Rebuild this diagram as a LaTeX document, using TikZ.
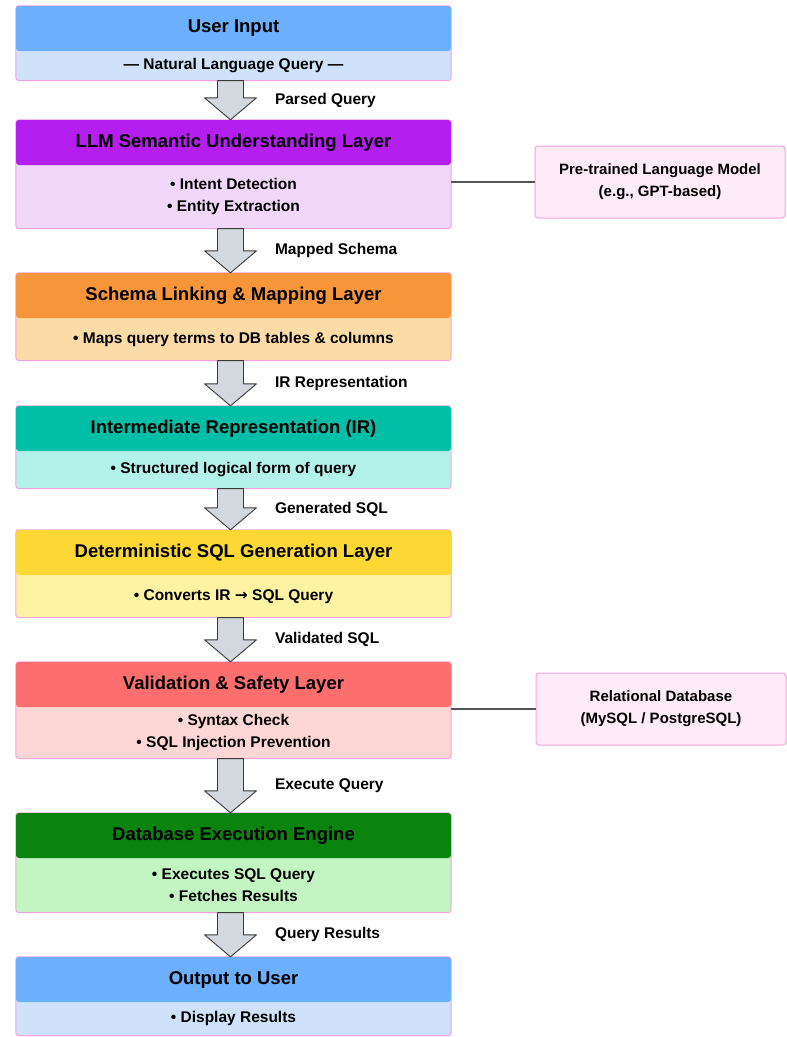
\documentclass[tikz,border=0pt]{standalone}
\usepackage{fontspec}
\setmainfont{Liberation Sans}
\newfontfamily\symbolfont{DejaVu Sans}
\usetikzlibrary{positioning, fit, backgrounds, calc}

\definecolor{userHead}{HTML}{6CAFFC}
\definecolor{userBody}{HTML}{CFE2FA}
\definecolor{llmHeadC}{HTML}{B41FF0}
\definecolor{llmBodyC}{HTML}{F1D7FA}
\definecolor{schemaHeadC}{HTML}{F7953A}
\definecolor{schemaBodyC}{HTML}{FCDBA6}
\definecolor{irHeadC}{HTML}{00BFA6}
\definecolor{irBodyC}{HTML}{B3F2EB}
\definecolor{genHeadC}{HTML}{FDD835}
\definecolor{genBodyC}{HTML}{FEF3A2}
\definecolor{valHeadC}{HTML}{FF6E6E}
\definecolor{valBodyC}{HTML}{FFD6D6}
\definecolor{exeHeadC}{HTML}{0A840F}
\definecolor{exeBodyC}{HTML}{C3F5C3}
\definecolor{framepink}{HTML}{F5A3DC}
\definecolor{sidefill}{HTML}{FDEBF8}
\definecolor{arrowfill}{HTML}{D3D8DE}
\definecolor{arrowline}{HTML}{3A3A3A}
\definecolor{linkgray}{HTML}{555555}

\begin{document}
\begin{tikzpicture}[
    x=1pt, y=-1pt,
    headbox/.style={rounded corners=3pt, minimum width=435pt, minimum height=45pt, inner sep=0pt, font=\fontsize{18.5}{22}\selectfont\bfseries},
    bodybox/.style={align=center, minimum width=435pt, inner sep=0pt, font=\fontsize{15.5}{22}\selectfont\bfseries},
    layerframe/.style={draw=framepink, line width=1pt, rounded corners=3pt, inner sep=0pt},
    sidebox/.style={draw=framepink, line width=1pt, fill=sidefill, rounded corners=3pt, align=center, minimum width=250pt, minimum height=72pt, inner sep=0pt, font=\fontsize{15}{22}\selectfont\bfseries},
    flowlabel/.style={anchor=west, xshift=38pt, font=\fontsize{15.5}{18}\selectfont\bfseries},
    link/.style={draw=linkgray, line width=1.2pt},
    blockarrow/.style={draw=arrowline, fill=arrowfill, line width=0.9pt, line join=round,
        to path={let \p1=(\tikztostart), \p2=(\tikztotarget) in
            (\x1-13pt,\y1) -- (\x1+13pt,\y1) -- (\x1+13pt,\y2+22pt) -- (\x1+26pt,\y2+22pt)
            -- (\x1,\y2) -- (\x1-26pt,\y2+22pt) -- (\x1-13pt,\y2+22pt) -- cycle}},
]
\useasboundingbox (0,0) rectangle (787,1037);

% Layer 1: user input
\node[headbox, fill=userHead] (userHead) at (233.5,28.5) {User Input};
\node[bodybox, below=0pt of userHead, minimum height=29pt] (userBody) {— Natural Language Query —};

% Layer 2: LLM
\node[headbox, fill=llmHeadC] (llmHead) at (233.5,142.5) {LLM Semantic Understanding Layer};
\node[bodybox, below=0pt of llmHead, minimum height=63pt] (llmBody) {• Intent Detection\\• Entity Extraction};

% Layer 3: schema linking
\node[headbox, fill=schemaHeadC] (schemaHead) at (233.5,295.5) {Schema Linking \& Mapping Layer};
\node[bodybox, below=0pt of schemaHead, minimum height=42pt] (schemaBody) {• Maps query terms to DB tables \& columns};

% Layer 4: IR
\node[headbox, fill=irHeadC] (irHead) at (233.5,428.5) {Intermediate Representation (IR)};
\node[bodybox, below=0pt of irHead, minimum height=37pt] (irBody) {• Structured logical form of query};

% Layer 5: SQL generation
\node[headbox, fill=genHeadC] (genHead) at (233.5,552.5) {Deterministic SQL Generation Layer};
\node[bodybox, below=0pt of genHead, minimum height=42pt] (genBody) {• Converts IR {\symbolfont\bfseries →} SQL Query};

% Layer 6: validation
\node[headbox, fill=valHeadC] (valHead) at (233.5,684.5) {Validation \& Safety Layer};
\node[bodybox, below=0pt of valHead, minimum height=51pt] (valBody) {• Syntax Check\\• SQL Injection Prevention};

% Layer 7: execution
\node[headbox, fill=exeHeadC] (exeHead) at (233.5,835.5) {Database Execution Engine};
\node[bodybox, below=0pt of exeHead, minimum height=54pt] (exeBody) {• Executes SQL Query\\• Fetches Results};

% Layer 8: output
\node[headbox, fill=userHead] (outHead) at (233.5,979.5) {Output to User};
\node[bodybox, below=0pt of outHead, minimum height=33pt] (outBody) {• Display Results};

% Frames behind each layer
\begin{scope}[on background layer]
\node[layerframe, fill=userBody, fit=(userHead)(userBody)] (userFrame) {};
\node[layerframe, fill=llmBodyC, fit=(llmHead)(llmBody)] (llmFrame) {};
\node[layerframe, fill=schemaBodyC, fit=(schemaHead)(schemaBody)] (schemaFrame) {};
\node[layerframe, fill=irBodyC, fit=(irHead)(irBody)] (irFrame) {};
\node[layerframe, fill=genBodyC, fit=(genHead)(genBody)] (genFrame) {};
\node[layerframe, fill=valBodyC, fit=(valHead)(valBody)] (valFrame) {};
\node[layerframe, fill=exeBodyC, fit=(exeHead)(exeBody)] (exeFrame) {};
\node[layerframe, fill=userBody, fit=(outHead)(outBody)] (outFrame) {};
\end{scope}

% Side components
\node[sidebox] (langModel) at (660,182) {Pre-trained Language Model\\(e.g., GPT-based)};
\node[sidebox] (relDb) at (661,709) {Relational Database\\(MySQL / PostgreSQL)};
\draw[link] (langModel.west -| llmBody.east) -- (langModel.west);
\draw[link] (relDb.west -| valBody.east) -- (relDb.west);

% Flow arrows
\draw[blockarrow] ([xshift=-3pt]userBody.south) to (llmHead.north);
\draw[blockarrow] ([xshift=-3pt]llmBody.south) to (schemaHead.north);
\draw[blockarrow] ([xshift=-3pt]schemaBody.south) to (irHead.north);
\draw[blockarrow] ([xshift=-3pt]irBody.south) to (genHead.north);
\draw[blockarrow] ([xshift=-3pt]genBody.south) to (valHead.north);
\draw[blockarrow] ([xshift=-3pt]valBody.south) to (exeHead.north);
\draw[blockarrow] ([xshift=-3pt]exeBody.south) to (outHead.north);

% Arrow labels
\path (userBody.south) -- (llmHead.north) node[midway, flowlabel] (parsedLbl) {Parsed Query};
\path (llmBody.south) -- (schemaHead.north) node[midway, flowlabel] (mappedLbl) {Mapped Schema};
\path (schemaBody.south) -- (irHead.north) node[midway, flowlabel] (irLbl) {IR Representation};
\path (irBody.south) -- (genHead.north) node[midway, flowlabel] (genLbl) {Generated SQL};
\path (genBody.south) -- (valHead.north) node[midway, flowlabel] (validLbl) {Validated SQL};
\path (valBody.south) -- (exeHead.north) node[midway, flowlabel] (execLbl) {Execute Query};
\path (exeBody.south) -- (outHead.north) node[midway, flowlabel] (resultLbl) {Query Results};
\end{tikzpicture}
\end{document}
